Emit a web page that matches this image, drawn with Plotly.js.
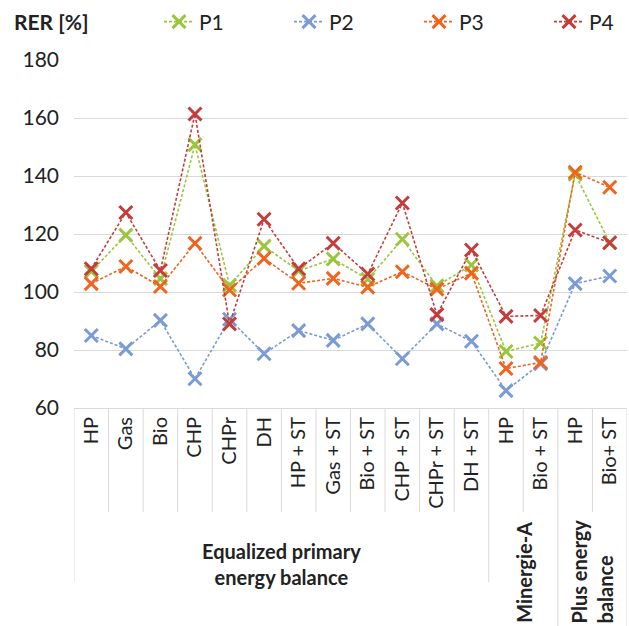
<!DOCTYPE html>
<html><head><meta charset="utf-8">
<script src="https://cdn.plot.ly/plotly-3.0.1.min.js"></script>
<style>html,body{margin:0;padding:0;background:#fff}</style>
</head><body><div id="chart" style="width:629px;height:626px"></div>
<script>
const categories = ["HP","Gas","Bio","CHP","CHPr","DH","HP + ST","Gas + ST","Bio + ST","CHP + ST","CHPr + ST","DH + ST","HP","Bio + ST","HP","Bio+ ST"];
const groups = ["Equalized primary<br>energy balance","Equalized primary<br>energy balance","Equalized primary<br>energy balance","Equalized primary<br>energy balance","Equalized primary<br>energy balance","Equalized primary<br>energy balance","Equalized primary<br>energy balance","Equalized primary<br>energy balance","Equalized primary<br>energy balance","Equalized primary<br>energy balance","Equalized primary<br>energy balance","Equalized primary<br>energy balance","Minergie-A","Minergie-A","Plus energy<br>balance","Plus energy<br>balance"];
const seriesNames = ["P1","P2","P3","P4"];
const P1 = [107.1,119.6,104.6,150.8,102.3,115.8,107.3,111.4,104.4,118.2,102.1,109.3,79.5,82.4,140.6,117.0];
const P2 = [85.0,80.4,90.2,70.1,90.6,78.7,86.7,83.3,89.0,77.0,89.0,83.0,66.0,75.3,102.9,105.5];
const P3 = [102.9,108.8,101.9,116.8,100.7,111.6,103.0,104.7,101.7,107.0,101.0,106.5,73.6,75.7,141.3,136.1];
const P4 = [108.0,127.4,107.4,161.4,89.0,125.1,108.0,116.8,106.2,130.7,92.2,114.5,91.6,91.9,121.4,117.0];
const yTicks = [60,80,100,120,140,160,180];
const yTitle = "RER [%]";

const colors = ["#9BC53D","#7A9BD3","#F0641E","#C43C3C"];
const FONT = "Lato, 'Open Sans', sans-serif";
const idx = categories.map((c,i)=>i);
const allSeries = [P1,P2,P3,P4];

const traces = allSeries.map((vals,k)=>({
  x: idx, y: vals, name: seriesNames[k], type: 'scatter', mode: 'lines+markers',
  line: {color: colors[k], width: 1.6, dash: '3px,2px'},
  marker: {symbol: 'x-thin', size: 13, color: colors[k], line: {color: colors[k], width: 3}}
}));

const H = 348;
const inner = -(512-408)/H, grpShort = -(582-408)/H, grpLong = -(626-408)/H;

const shapes = [];
const spans = [];
groups.forEach((g,i)=>{
  if (i===0 || g!==groups[i-1]) spans.push({name:g,start:i,end:i});
  else spans[spans.length-1].end = i;
});
const boundaries = new Set(spans.map(s=>s.start));
for (let i=0;i<=categories.length;i++){
  let y1 = inner;
  if (boundaries.has(i)) y1 = (i < spans[spans.length-1].start) ? grpShort : grpLong;
  if (i===categories.length) y1 = grpLong;
  shapes.push({type:'line', xref:'x', yref:'paper', x0:i-0.5, x1:i-0.5, y0:0, y1:y1,
    line:{color:'#d9d9d9', width:1}});
}

const annotations = [{
  text: '<b>'+yTitle+'</b>', xref:'paper', yref:'paper', x:(12-74)/553, y:1+(60-22)/H,
  xanchor:'left', yanchor:'middle', showarrow:false, font:{family:FONT, size:21, color:'#222'}
}];
spans.forEach((s,j)=>{
  const xc = (s.start+s.end)/2;
  if (j===0) {
    annotations.push({text:'<b>'+s.name+'</b>', xref:'x', yref:'paper', x:xc, y:-(564-408)/H,
      xanchor:'center', yanchor:'middle', showarrow:false, align:'center',
      font:{family:FONT, size:20, color:'#222'}});
  } else {
    annotations.push({text:'<b>'+s.name+'</b>', xref:'x', yref:'paper', x:xc, y:-(625-408)/H,
      xanchor:'center', yanchor:'bottom', showarrow:false, align:'left', textangle:-90,
      font:{family:FONT, size:20, color:'#222'}});
  }
});

const layout = {
  width:629, height:626, paper_bgcolor:'#fff', plot_bgcolor:'#fff',
  margin:{l:74, r:2, t:60, b:218},
  font:{family:FONT, color:'#222'},
  showlegend:true,
  legend:{orientation:'h', xref:'container', yref:'container', x:159/629, y:1-22/626,
    xanchor:'left', yanchor:'middle', entrywidth:85, entrywidthmode:'pixels',
    font:{family:FONT, size:21, color:'#222'}, bgcolor:'rgba(0,0,0,0)', itemwidth:30},
  xaxis:{range:[-0.5, categories.length-0.5], tickmode:'array', tickvals:idx, ticktext:categories,
    tickangle:-90, tickfont:{family:FONT, size:20, color:'#222'}, showgrid:false, zeroline:false,
    showline:true, linecolor:'#d9d9d9', linewidth:1, ticks:'', fixedrange:true},
  yaxis:{range:[60,180], tickmode:'array', tickvals:yTicks, showgrid:true, gridcolor:'#d9d9d9', gridwidth:1,
    zeroline:false, showline:false, ticks:'', ticklabelstandoff:14,
    tickfont:{family:FONT, size:21, color:'#222'}, fixedrange:true},
  shapes: shapes, annotations: annotations
};
Plotly.newPlot('chart', traces, layout, {displayModeBar:false, staticPlot:true});
</script></body></html>
